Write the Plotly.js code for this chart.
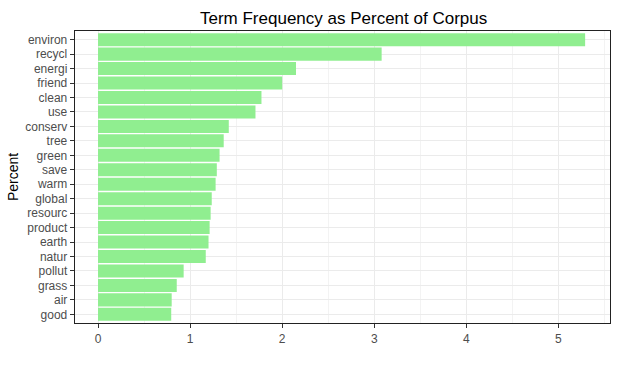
<!DOCTYPE html>
<html>
<head>
<meta charset="utf-8">
<script src="https://cdn.plot.ly/plotly-3.0.1.min.js"></script>
<style>html,body{margin:0;padding:0;background:#fff;}</style>
</head>
<body>
<div id="chart" style="width:618px;height:369px;"></div>
<script>
const terms = ["environ","recycl","energi","friend","clean","use","conserv","tree","green","save","warm","global","resourc","product","earth","natur","pollut","grass","air","good"];
const percents = [5.29,3.08,2.15,2.0,1.775,1.71,1.42,1.365,1.32,1.29,1.277,1.235,1.223,1.212,1.2,1.17,0.93,0.855,0.80,0.795];
const xTicks = [0,1,2,3,4,5];

const order = terms.slice().reverse();
const trace = {
  type: 'bar',
  orientation: 'h',
  x: percents,
  y: terms,
  width: 0.9,
  marker: {color: '#90EE90', line: {width: 0}},
  hoverinfo: 'x+y'
};
const font = 'Liberation Sans, Arial, sans-serif';
const layout = {
  width: 618, height: 369,
  margin: {l: 75, r: 8, t: 31, b: 46},
  paper_bgcolor: '#fff', plot_bgcolor: '#fff',
  showlegend: false,
  title: {text: 'Term Frequency as Percent of Corpus', font: {family: font, size: 17, color: '#000'}, x: 0.556, xanchor: 'center', y: 0.952, yanchor: 'middle'},
  xaxis: {
    range: [-0.25, 5.56],
    tickvals: xTicks, ticktext: xTicks.map(String),
    ticks: 'outside', ticklen: 4, tickcolor: '#333', tickwidth: 1,
    tickfont: {family: font, size: 12, color: '#4D4D4D'},
    showgrid: true, gridcolor: '#EBEBEB', gridwidth: 1,
    minor: {tickvals: [0.5,1.5,2.5,3.5,4.5,5.5], showgrid: true, gridcolor: '#EBEBEB', gridwidth: 0.6, ticks: ''},
    zeroline: false,
    showline: true, linecolor: '#222', linewidth: 1.3, mirror: true,
    automargin: false, fixedrange: true
  },
  yaxis: {
    type: 'category', categoryorder: 'array', categoryarray: order,
    range: [-0.6, 19.6],
    ticks: 'outside', ticklen: 4, tickcolor: '#333', tickwidth: 1,
    tickfont: {family: font, size: 12, color: '#4D4D4D'},
    showgrid: true, gridcolor: '#EBEBEB', gridwidth: 1,
    zeroline: false,
    showline: true, linecolor: '#222', linewidth: 1.3, mirror: true,
    title: {text: 'Percent', font: {family: font, size: 14, color: '#000'}, standoff: 3},
    automargin: false, fixedrange: true
  },
  bargap: 0.1
};
Plotly.newPlot('chart', [trace], layout, {displayModeBar: false, staticPlot: true});
</script>
</body>
</html>
